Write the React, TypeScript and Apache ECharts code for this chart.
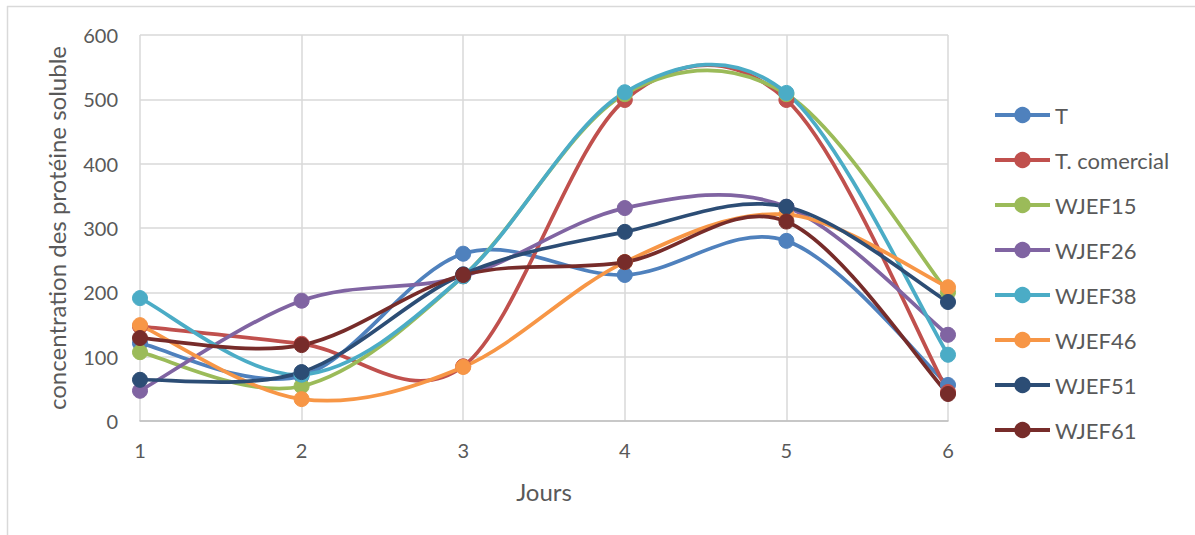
import React, { useEffect, useRef } from "react";
import * as echarts from "echarts";

const days = ["1", "2", "3", "4", "5", "6"];
const seriesNames = ["T", "T. comercial", "WJEF15", "WJEF26", "WJEF38", "WJEF46", "WJEF51", "WJEF61"];
const colors = ["#4F81BD", "#C0504D", "#9BBB59", "#8064A2", "#4BACC6", "#F79646", "#2C4D75", "#772C2A"];

const vT = [121, 70, 260, 227, 280, 56];
const vTcom = [147, 120, 85, 499, 499, 45];
const vWJEF15 = [107, 54, 225, 508, 508, 200];
const vWJEF26 = [47, 187, 225, 331, 333, 134];
const vWJEF38 = [191, 72, 225, 511, 510, 103];
const vWJEF46 = [149, 34, 84, 247, 321, 208];
const vWJEF51 = [64, 76, 228, 294, 333, 185];
const vWJEF61 = [129, 118, 227, 247, 310, 42];

const allValues = [vT, vTcom, vWJEF15, vWJEF26, vWJEF38, vWJEF46, vWJEF51, vWJEF61];

const FONT = "Lato";
const TEXT = "#595959";

function smoothPath(pts: number[][]): string {
  const n = pts.length;
  let d = `M${pts[0][0]},${pts[0][1]}`;
  for (let i = 0; i < n - 1; i++) {
    const p0 = pts[Math.max(i - 1, 0)];
    const p1 = pts[i];
    const p2 = pts[i + 1];
    const p3 = pts[Math.min(i + 2, n - 1)];
    const c1x = p1[0] + (p2[0] - p0[0]) / 6;
    const c1y = p1[1] + (p2[1] - p0[1]) / 6;
    const c2x = p2[0] - (p3[0] - p1[0]) / 6;
    const c2y = p2[1] - (p3[1] - p1[1]) / 6;
    d += ` C${c1x},${c1y} ${c2x},${c2y} ${p2[0]},${p2[1]}`;
  }
  return d;
}

export default function App() {
  const ref = useRef<HTMLDivElement>(null);
  useEffect(() => {
    if (!ref.current) return;
    const chart = echarts.init(ref.current, null, { renderer: "svg" });
    const series: any[] = [];
    allValues.forEach((vals, k) => {
      series.push({
        type: "custom",
        name: seriesNames[k] + " curve",
        data: [[0, vals[0]]],
        coordinateSystem: "cartesian2d",
        silent: true,
        z: 2,
        renderItem: (params: any, api: any) => {
          const pts = vals.map((v, i) => api.coord([i, v]));
          return {
            type: "path",
            shape: { pathData: smoothPath(pts) },
            style: { stroke: colors[k], fill: "none", lineWidth: 3.75, lineCap: "round", lineJoin: "round" },
          };
        },
      });
      series.push({
        type: "line",
        name: seriesNames[k],
        data: vals,
        z: 2,
        symbol: "circle",
        symbolSize: 15,
        showSymbol: true,
        itemStyle: { color: colors[k], borderColor: colors[k], borderWidth: 1 },
        lineStyle: { color: colors[k], width: 3.75, opacity: 0 },
      });
    });
    chart.setOption({
      animation: false,
      textStyle: { fontFamily: FONT },
      color: colors,
      grid: { left: 140, right: 247, top: 35, bottom: 114, containLabel: false },
      legend: {
        orient: "vertical",
        left: 988,
        top: 99,
        itemWidth: 55,
        itemHeight: 18,
        itemGap: 23,
        data: seriesNames,
        textStyle: { fontFamily: FONT, fontSize: 22, color: TEXT },
        lineStyle: { width: 4, opacity: 1 },
        selectedMode: false,
      },
      xAxis: {
        type: "category",
        data: days,
        boundaryGap: false,
        name: "Jours",
        nameLocation: "middle",
        nameGap: 58,
        nameTextStyle: { fontFamily: FONT, fontSize: 24, color: TEXT },
        axisLine: { lineStyle: { color: "#BFBFBF", width: 1.5 } },
        axisTick: { show: false },
        axisLabel: { fontFamily: FONT, fontSize: 20, color: TEXT, margin: 19 },
        splitLine: { show: true, lineStyle: { color: "#D9D9D9", width: 1.5 } },
      },
      yAxis: {
        type: "value",
        min: 0,
        max: 600,
        interval: 100,
        name: "concentration des protéine soluble",
        nameLocation: "middle",
        nameGap: 72,
        nameTextStyle: { fontFamily: FONT, fontSize: 24, color: TEXT },
        axisLine: { show: false },
        axisTick: { show: false },
        axisLabel: { fontFamily: FONT, fontSize: 20, color: TEXT, margin: 22 },
        splitLine: { show: true, lineStyle: { color: "#D9D9D9", width: 1.5 } },
      },
      graphic: [
        { type: "line", shape: { x1: 7, y1: 6.5, x2: 1195, y2: 6.5 }, style: { stroke: "#D9D9D9", lineWidth: 1.5 } },
        { type: "line", shape: { x1: 7.5, y1: 6, x2: 7.5, y2: 535 }, style: { stroke: "#D9D9D9", lineWidth: 1.5 } },
      ],
      series,
    });
    return () => chart.dispose();
  }, []);
  return (
    <div
      ref={ref}
      style={{ position: "fixed", left: 0, top: 0, width: 1195, height: 535, background: "#fff" }}
    />
  );
}
